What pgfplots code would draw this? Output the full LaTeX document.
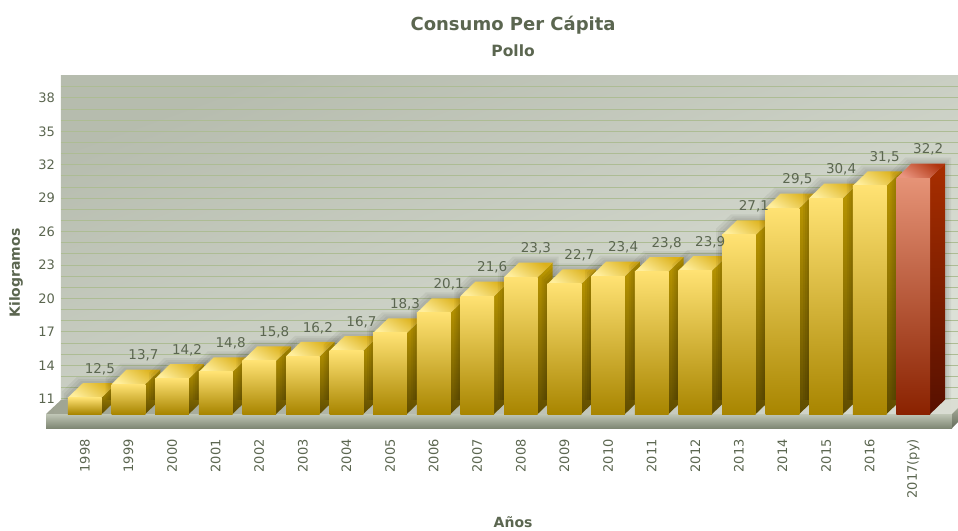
\documentclass[border=0pt]{standalone}
\usepackage{pgfplots}
\usepackage{pgfplotstable}
\usepackage{fontspec}
\setmainfont{DejaVu Sans}
\pgfplotsset{compat=1.18}
\definecolor{txt}{HTML}{5B6650}
\definecolor{HTMLgrid}{HTML}{ADBC94}
\definecolor{WallA}{HTML}{B6BCAE}
\definecolor{WallM}{HTML}{CFD4C8}
\definecolor{WallB}{HTML}{DEE2D9}
\definecolor{FloorA}{HTML}{9FA493}
\definecolor{FloorB}{HTML}{DADDD3}
\definecolor{FloorC}{HTML}{A2A896}
\definecolor{FloorD}{HTML}{666D5C}
\definecolor{SlabA}{HTML}{C0C6B6}
\definecolor{SlabB}{HTML}{7F8774}
\definecolor{BarYt}{HTML}{FFE273}
\definecolor{BarYb}{HTML}{A88500}
\definecolor{BarRt}{HTML}{E69377}
\definecolor{BarRb}{HTML}{8A2200}
\definecolor{HTMLsideYt}{HTML}{BC9800}
\definecolor{HTMLsideYb}{HTML}{5F4C00}
\definecolor{HTMLtopYa}{HTML}{DCB11A}
\definecolor{HTMLtopYb}{HTML}{FFEE9C}
\definecolor{HTMLsideRt}{HTML}{A82E00}
\definecolor{HTMLsideRb}{HTML}{571000}
\definecolor{HTMLtopRa}{HTML}{B0340F}
\definecolor{HTMLtopRb}{HTML}{EA9580}
\pgfplotstableread{
x v lbl
0 12.5 12,5
1 13.7 13,7
2 14.2 14,2
3 14.8 14,8
4 15.8 15,8
5 16.2 16,2
6 16.7 16,7
7 18.3 18,3
8 20.1 20,1
9 21.6 21,6
10 23.3 23,3
11 22.7 22,7
12 23.4 23,4
13 23.8 23,8
14 23.9 23,9
15 27.1 27,1
16 29.5 29,5
17 30.4 30,4
18 31.5 31,5
19 32.2 32,2
}\alldata
\pgfplotsset{
  sideY/.style={draw=none,top color=HTMLsideYt,bottom color=HTMLsideYb},
  topY/.style={draw=none,left color=HTMLtopYa,right color=HTMLtopYb,shading angle=-35},
  sideR/.style={draw=none,top color=HTMLsideRt,bottom color=HTMLsideRb},
  topR/.style={draw=none,left color=HTMLtopRa,right color=HTMLtopRb,shading angle=-35},
  shad/.style={draw=none,fill=black,fill opacity=0.05},
  frontY/.style={ybar,bar width=33.7pt,bar shift=0pt,draw=none,top color=BarYt,bottom color=BarYb},
  frontR/.style={ybar,bar width=33.7pt,bar shift=0pt,draw=none,top color=BarRt,bottom color=BarRb},
}
\newcommand\oneshadow[4]{%
  \pgfmathsetmacro\xa{#1-0.3865-#3}%
  \pgfmathsetmacro\xb{#1-0.3865+0.344-#3}%
  \pgfmathsetmacro\xc{#1+0.3865+0.344+#3}%
  \pgfmathsetmacro\ya{#2-1.39+#4}%
  \pgfmathsetmacro\yb{#2-0.09+#4}%
  \edef\temp{\noexpand\addplot[shad] coordinates {(\xa,\ya) (\xb,\yb) (\xc,\yb) (\xc,10.89) (\xa,10.89)} --cycle;}\temp
}
\newcommand\onebar[4]{%
  \oneshadow{#1}{#2}{0.138}{0.54}%
  \oneshadow{#1}{#2}{0.092}{0.36}%
  \oneshadow{#1}{#2}{0.046}{0.18}%
  \pgfmathsetmacro\xl{#1-0.3865}%
  \pgfmathsetmacro\xr{#1+0.3865}%
  \pgfmathsetmacro\xlb{#1-0.3865+0.344}%
  \pgfmathsetmacro\xrb{#1+0.3865+0.344}%
  \pgfmathsetmacro\yf{#2-1.39}%
  \pgfmathsetmacro\yb{#2-0.09}%
  \edef\temp{\noexpand\addplot[#3] coordinates {(\xr,9.63) (\xrb,10.93) (\xrb,\yb) (\xr,\yf)} --cycle;}\temp
  \edef\temp{\noexpand\addplot[#4] coordinates {(\xl,\yf) (\xr,\yf) (\xrb,\yb) (\xlb,\yb)} --cycle;}\temp
}
\begin{document}
\begin{tikzpicture}
\useasboundingbox (-61pt,-116pt) rectangle (897pt,414pt);
\begin{axis}[
  scale only axis, width=897pt, height=338pt,
  at={(0pt,0pt)}, anchor=south west,
  clip=false,
  xmin=-0.547, xmax=20.026, ymin=9.63, ymax=39.97,
  xtick={0,...,19},
  xticklabels={1998,1999,2000,2001,2002,2003,2004,2005,2006,2007,2008,2009,2010,2011,2012,2013,2014,2015,2016,2017(py)},
  ytick={11,14,...,38},
  minor ytick={12,13,15,16,18,19,21,22,24,25,27,28,30,31,33,34,36,37,39},
  ymajorgrids, yminorgrids,
  major grid style={draw=HTMLgrid,line width=1pt},
  minor grid style={draw=HTMLgrid,line width=1pt},
  axis line style={draw=none},
  major tick length=0pt, minor tick length=0pt,
  tick style={draw=none},
  tick label style={font=\fontsize{13}{15}\selectfont,text=txt},
  /pgf/number format/assume math mode=true,
  yticklabel style={inner xsep=0pt,xshift=-6pt},
  xticklabel style={rotate=90,anchor=east,inner xsep=0pt,inner ysep=0pt,xshift=-25pt},
  axis background/.style={top color=WallA,middle color=WallM,bottom color=WallB,shading angle=20},
  title={{\fontsize{18}{21}\selectfont\bfseries Consumo Per Cápita}\\[9pt]{\fontsize{15.5}{18}\selectfont\bfseries Pollo}},
  title style={at={(axis description cs:0.504,1.0992)},anchor=center,align=center,text=txt,inner sep=0pt},
  xlabel={Años},
  xlabel style={at={(axis description cs:0.504,-0.321)},anchor=center,font=\fontsize{14}{16}\selectfont\bfseries,text=txt,inner sep=0pt},
  ylabel={Kilogramos},
  ylabel style={at={(axis description cs:-0.05,0.417)},anchor=center,font=\fontsize{14}{16}\selectfont\bfseries,text=txt,inner sep=0pt},
  every node near coord/.append style={anchor=center,yshift=13pt,inner sep=0pt,font=\fontsize{13.5}{15}\selectfont,text=txt},
]
% floor slab
\addplot[draw=none,left color=FloorA,right color=FloorB] coordinates {(-0.891,9.63) (19.89,9.63) (20.026,10.17) (20.026,10.89) (-0.547,10.89)} --cycle;
\addplot[draw=none,top color=SlabA,bottom color=SlabB] coordinates {(-0.891,9.63) (19.89,9.63) (19.89,8.37) (-0.891,8.37)} --cycle;
\addplot[draw=none,top color=FloorC,bottom color=FloorD] coordinates {(19.89,9.63) (20.026,10.17) (20.026,8.91) (19.89,8.37)} --cycle;
% side and top faces
\onebar{0}{12.5}{sideY}{topY}
\onebar{1}{13.7}{sideY}{topY}
\onebar{2}{14.2}{sideY}{topY}
\onebar{3}{14.8}{sideY}{topY}
\onebar{4}{15.8}{sideY}{topY}
\onebar{5}{16.2}{sideY}{topY}
\onebar{6}{16.7}{sideY}{topY}
\onebar{7}{18.3}{sideY}{topY}
\onebar{8}{20.1}{sideY}{topY}
\onebar{9}{21.6}{sideY}{topY}
\onebar{10}{23.3}{sideY}{topY}
\onebar{11}{22.7}{sideY}{topY}
\onebar{12}{23.4}{sideY}{topY}
\onebar{13}{23.8}{sideY}{topY}
\onebar{14}{23.9}{sideY}{topY}
\onebar{15}{27.1}{sideY}{topY}
\onebar{16}{29.5}{sideY}{topY}
\onebar{17}{30.4}{sideY}{topY}
\onebar{18}{31.5}{sideY}{topY}
\onebar{19}{32.2}{sideR}{topR}
% front faces (value minus the 1.39 of the depth offset)
\addplot[frontY] coordinates {(0,11.11)};
\addplot[frontY] coordinates {(1,12.31)};
\addplot[frontY] coordinates {(2,12.81)};
\addplot[frontY] coordinates {(3,13.41)};
\addplot[frontY] coordinates {(4,14.41)};
\addplot[frontY] coordinates {(5,14.81)};
\addplot[frontY] coordinates {(6,15.31)};
\addplot[frontY] coordinates {(7,16.91)};
\addplot[frontY] coordinates {(8,18.71)};
\addplot[frontY] coordinates {(9,20.21)};
\addplot[frontY] coordinates {(10,21.91)};
\addplot[frontY] coordinates {(11,21.31)};
\addplot[frontY] coordinates {(12,22.01)};
\addplot[frontY] coordinates {(13,22.41)};
\addplot[frontY] coordinates {(14,22.51)};
\addplot[frontY] coordinates {(15,25.71)};
\addplot[frontY] coordinates {(16,28.11)};
\addplot[frontY] coordinates {(17,29.01)};
\addplot[frontY] coordinates {(18,30.11)};
\addplot[frontR] coordinates {(19,30.81)};
% value labels
\addplot[draw=none,mark=none,nodes near coords,point meta=explicit symbolic] table[x expr=\thisrow{x}+0.344,y=v,meta=lbl] {\alldata};
\end{axis}
\end{tikzpicture}
\end{document}
